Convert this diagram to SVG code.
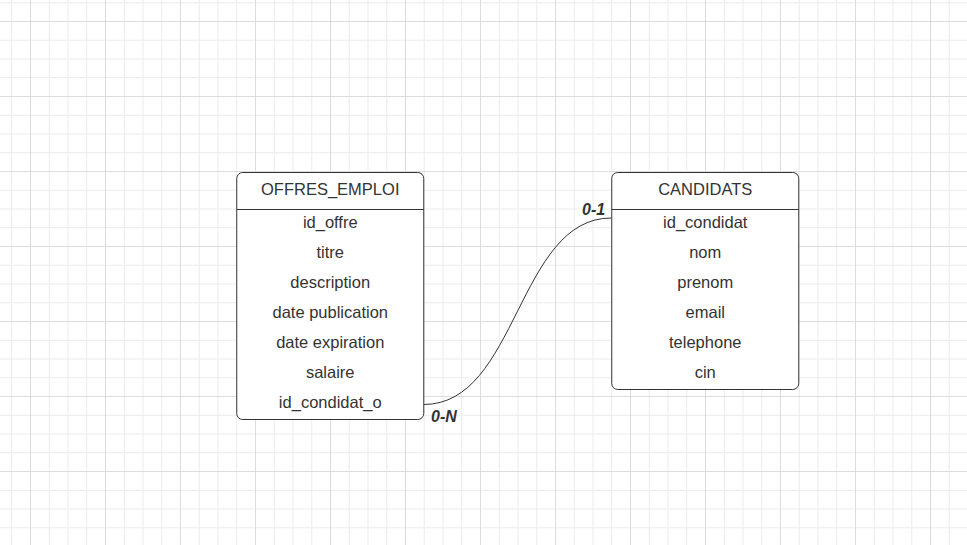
<svg xmlns="http://www.w3.org/2000/svg" width="967" height="545" viewBox="0 0 967 545">
<style>
.box{fill:#ffffff;stroke:#333333;stroke-width:1}
.sep{stroke:#333333;stroke-width:1}
.t{font-family:"Liberation Sans",Arial,sans-serif;font-size:16.5px;fill:#333333;text-anchor:middle}
.lbl{font-family:"Liberation Sans",Arial,sans-serif;font-size:16px;font-weight:bold;font-style:italic;fill:#333333}
.edge{fill:none;stroke:#333333;stroke-width:1}
</style>
<defs>
<pattern id="grid" patternUnits="userSpaceOnUse" x="30" y="21" width="75" height="75">
<rect x="18.75" y="0" width="1" height="75" fill="#ececec"/>
<rect x="37.5" y="0" width="1" height="75" fill="#ececec"/>
<rect x="56.25" y="0" width="1" height="75" fill="#ececec"/>
<rect x="0" y="18.75" width="75" height="1" fill="#ececec"/>
<rect x="0" y="37.5" width="75" height="1" fill="#ececec"/>
<rect x="0" y="56.25" width="75" height="1" fill="#ececec"/>
<rect x="0" y="0" width="1" height="75" fill="#dcdcdc"/>
<rect x="0" y="0" width="75" height="1" fill="#dcdcdc"/>
</pattern>
</defs>
<rect x="0" y="0" width="967" height="545" fill="#ffffff"/>
<rect x="0" y="0" width="967" height="545" fill="url(#grid)"/>
<g id="connectors">
<path class="edge" d="M423.75,404.5 C517.5,404.5 517.5,218 611.25,218"/>
<text class="lbl" x="431" y="422">0-N</text>
<text class="lbl" x="582" y="215">0-1</text>
</g>
<g id="offres_emploi">
<rect class="box" x="236.75" y="172.5" width="187" height="247" rx="6" ry="6"/>
<line class="sep" x1="236.75" y1="209.5" x2="423.75" y2="209.5"/>
<text class="t" x="330.25" y="195">OFFRES_EMPLOI</text>
<text class="t" x="330.25" y="228">id_offre</text>
<text class="t" x="330.25" y="258">titre</text>
<text class="t" x="330.25" y="288">description</text>
<text class="t" x="330.25" y="318">date publication</text>
<text class="t" x="330.25" y="348">date expiration</text>
<text class="t" x="330.25" y="378">salaire</text>
<text class="t" x="330.25" y="408">id_condidat_o</text>
</g>
<g id="candidats">
<rect class="box" x="611.75" y="172.5" width="187" height="217" rx="6" ry="6"/>
<line class="sep" x1="611.75" y1="209.5" x2="798.75" y2="209.5"/>
<text class="t" x="705.25" y="195">CANDIDATS</text>
<text class="t" x="705.25" y="228">id_condidat</text>
<text class="t" x="705.25" y="258">nom</text>
<text class="t" x="705.25" y="288">prenom</text>
<text class="t" x="705.25" y="318">email</text>
<text class="t" x="705.25" y="348">telephone</text>
<text class="t" x="705.25" y="378">cin</text>
</g>
</svg>
